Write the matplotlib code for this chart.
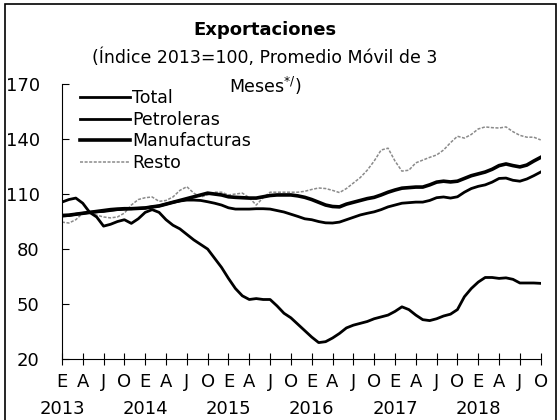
import numpy as np
import matplotlib.pyplot as plt
from matplotlib.patches import Rectangle

# Monthly data, Jan 2013 - Oct 2018 (3-month moving average index, 2013=100)
months = np.arange(70)

total = [98.0, 98.3, 99.0, 99.5, 100.0, 100.3, 100.5, 101.0, 101.5, 101.8,
         102.0, 102.2, 102.4, 103.0, 103.5, 104.5, 105.5, 106.2, 106.7, 106.7,
         106.5, 105.8, 105.0, 104.0, 102.5, 101.8, 101.8, 101.8, 102.0, 102.0,
         101.8, 101.0, 100.2, 99.0, 97.8, 96.5, 96.0, 95.0, 94.3, 94.2,
         94.7, 96.0, 97.3, 98.6, 99.5, 100.3, 101.5, 103.0, 104.0, 105.0,
         105.3, 105.6, 105.6, 106.5, 108.0, 108.4, 107.8, 108.5, 111.0, 113.0,
         114.2, 115.0, 116.5, 118.5, 118.7, 117.5, 117.0, 118.2, 120.0, 122.0]

petroleras = [105.6, 107.0, 107.8, 105.0, 100.0, 97.5, 92.5, 93.5, 95.0, 96.0,
              94.0, 96.5, 100.0, 101.5, 100.0, 96.0, 93.0, 91.0, 88.0, 85.0,
              82.5, 80.0, 75.0, 70.0, 64.0, 58.5, 54.5, 52.5, 53.0, 52.5,
              52.5, 49.0, 45.0, 42.5, 39.0, 35.5, 32.0, 29.0, 29.5, 31.5,
              34.0, 37.0, 38.5, 39.5, 40.5, 42.0, 43.0, 44.0, 46.0, 48.5,
              47.0, 44.0, 41.5, 41.0, 42.0, 43.5, 44.5, 47.0, 54.0, 58.5,
              62.0, 64.5, 64.5, 64.0, 64.3, 63.5, 61.5, 61.5, 61.5, 61.3]

manufacturas = [98.3, 98.5, 99.0, 99.5, 100.0, 100.5, 101.0, 101.5, 101.8, 102.0,
                102.0, 102.2, 102.4, 103.0, 103.5, 104.5, 105.5, 106.5, 107.5, 108.5,
                109.5, 110.5, 110.0, 109.5, 108.5, 108.2, 108.0, 107.8, 107.8, 108.5,
                109.2, 109.5, 109.5, 109.5, 109.0, 108.2, 107.0, 105.5, 104.0, 103.2,
                103.0, 104.5, 105.5, 106.5, 107.5, 108.2, 109.5, 111.0, 112.2, 113.2,
                113.5, 113.8, 113.8, 115.0, 116.5, 117.0, 116.6, 117.0, 118.5, 120.0,
                121.0, 122.0, 123.5, 125.5, 126.4, 125.5, 124.8, 125.8, 128.0, 130.0]

resto = [94.7, 94.2, 96.0, 99.6, 100.0, 98.5, 97.5, 97.0, 97.5, 99.6,
         104.0, 107.0, 108.0, 108.4, 106.0, 106.5, 108.4, 112.0, 114.0, 110.5,
         108.4, 109.5, 111.0, 111.0, 109.5, 110.0, 110.5, 108.0, 104.0, 108.0,
         111.0, 111.0, 111.0, 111.0, 111.0, 111.5, 112.5, 113.3, 113.0, 112.0,
         110.8, 113.0, 116.0, 119.0, 123.0, 128.0, 134.0, 135.0, 128.0, 122.5,
         123.0, 127.0, 128.5, 130.0, 131.3, 134.0, 138.0, 141.5, 140.5, 142.5,
         145.5, 146.6, 146.2, 146.0, 146.6, 144.0, 142.0, 141.0, 141.0, 139.5]

quarter_labels = ['E', 'A', 'J', 'O'] * 6
years = ['2013', '2014', '2015', '2016', '2017', '2018']

plt.rcParams['font.family'] = ['DejaVu Sans']

fig = plt.figure(figsize=(5.58, 4.2), dpi=100)
ax = fig.add_axes([0.111, 0.145, 0.858, 0.655])

ax.plot(months, total, color='black', lw=2.0, label='Total', zorder=4)
ax.plot(months, petroleras, color='black', lw=2.0, label='Petroleras', zorder=3)
ax.plot(months, manufacturas, color='black', lw=2.6, label='Manufacturas', zorder=4)
ax.plot(months, resto, color='#8a8a8a', lw=1.1, ls=(0, (2, 1)), label='Resto', zorder=2)

ax.set_xlim(0, 69)
ax.set_ylim(20, 170)
ax.set_yticks([20, 50, 80, 110, 140, 170])
ax.tick_params(axis='y', direction='in', length=5, pad=16, labelsize=13)

ticks = np.arange(0, 70, 3)
ax.set_xticks(ticks)
ax.set_xticklabels(quarter_labels)
ax.tick_params(axis='x', direction='inout', length=8, pad=6, labelsize=13)

for s in ['top', 'right']:
    ax.spines[s].set_visible(False)

for i, yr in enumerate(years):
    ax.text(i * 12, -0.18, yr, transform=ax.get_xaxis_transform(),
            ha='center', va='center', fontsize=13)

ax.legend(loc='upper left', bbox_to_anchor=(0.015, 1.018), frameon=False,
          fontsize=12.5, handlelength=2.9, handletextpad=0.15,
          labelspacing=0.2, borderaxespad=0.2)

fig.text(0.475, 0.929, 'Exportaciones', ha='center', va='center',
         fontsize=13, fontweight='bold')
fig.text(0.475, 0.862, '(Índice 2013=100, Promedio Móvil de 3', ha='center',
         va='center', fontsize=12.5)
fig.text(0.475, 0.795, 'Meses$^{*/}$)', ha='center', va='center', fontsize=12.5)

# frame around the figure
fig.patches.append(Rectangle((0.009, -0.01), 0.987, 1.0, transform=fig.transFigure,
                             fill=False, edgecolor='black', lw=1.2))

fig.savefig('out.png', dpi=100)
